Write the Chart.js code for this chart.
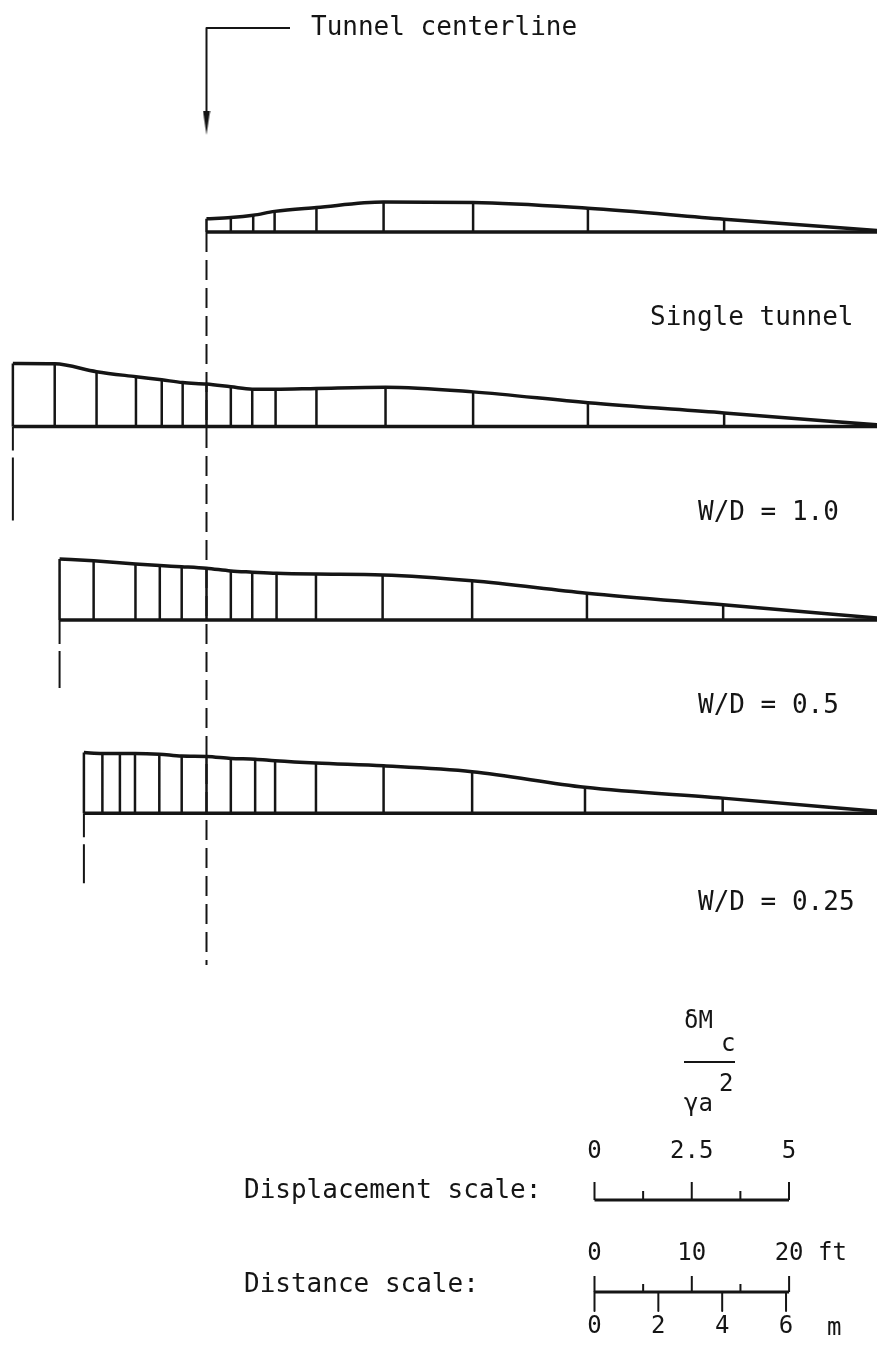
<!DOCTYPE html>
<html>
<head>
<meta charset="utf-8">
<script src="https://cdn.jsdelivr.net/npm/chart.js@4.4.1/dist/chart.umd.min.js"></script>
<style>
  html, body { margin: 0; padding: 0; background: #fff; }
  #wrap { position: relative; width: 877px; height: 1347px; overflow: hidden; }
  #chart { position: absolute; left: 0; top: 0; }
  .lbl { position: absolute; font-family: "DejaVu Sans Mono", monospace; color: #151515; white-space: pre; line-height: 1; }
</style>
</head>
<body>
<div id="wrap">
  <canvas id="chart" width="877" height="1347"></canvas>
</div>
<script>
'use strict';

// dane: odleglosc od osi tunelu (ft) i przemieszczenie dMc/(ya^2)
var single_x = [0, 2.5, 4.8, 7.0, 11.3, 18.2, 27.4, 39.2, 53.2, 69];
var single_y = [0.34, 0.37, 0.43, 0.53, 0.63, 0.77, 0.76, 0.61, 0.33, 0.04];

var wd10_x = [-19.9, -15.6, -11.3, -7.25, -4.6, -2.45, 0, 2.5, 4.7, 7.1, 11.3, 18.4, 27.4, 39.2, 53.2, 69];
var wd10_y = [1.62, 1.61, 1.41, 1.28, 1.20, 1.13, 1.09, 1.02, 0.96, 0.96, 0.98, 1.01, 0.89, 0.61, 0.35, 0.04];

var wd05_x = [-15.1, -11.6, -7.3, -4.8, -2.55, 0, 2.5, 4.7, 7.2, 11.25, 18.1, 27.3, 39.1, 53.1, 69];
var wd05_y = [1.57, 1.52, 1.44, 1.40, 1.37, 1.33, 1.26, 1.23, 1.20, 1.18, 1.16, 1.01, 0.69, 0.39, 0.05];

var wd025_x = [-12.6, -10.7, -8.9, -7.35, -4.85, -2.55, 0, 2.5, 5.0, 7.05, 11.25, 18.2, 27.3, 38.9, 53.05, 69];
var wd025_y = [1.56, 1.54, 1.54, 1.54, 1.52, 1.47, 1.46, 1.41, 1.39, 1.35, 1.29, 1.22, 1.07, 0.67, 0.39, 0.05];

var profileNames = ['Single tunnel', 'W/D = 1.0', 'W/D = 0.5', 'W/D = 0.25'];

// skale (podzialki na dole)
var dispTicks = [0, 1.25, 2.5, 3.75, 5];
var dispTickLabels = ['0', '', '2.5', '', '5'];
var ftTicks = [0, 5, 10, 15, 20];
var ftTickLabels = ['0', '', '10', '', '20'];
var mTicks = [0, 2, 4, 6];
var mTickLabels = ['0', '2', '4', '6'];

// geometria rysunku
var W = 877, H = 1347;
var PX_PER_FT = 9.73;
var PX_PER_UNIT = 38.9;
var CENTER_PX = 206.5;
var BASELINES = [232, 426.5, 620, 813.3];
var LEFT_EXT = [0, 94, 68, 70];
var CENTERLINE_END = 965;
var SCALE_X0 = (594.5 - CENTER_PX) / PX_PER_FT;
var FT_PER_UNIT = PX_PER_UNIT / PX_PER_FT;
var FT_PER_M = 3.28084;
var DISP_BAR_Y = 1200, DIST_BAR_Y = 1292;
var INK = '#151515';

var xsAll = [single_x, wd10_x, wd05_x, wd025_x];
var ysAll = [single_y, wd10_y, wd05_y, wd025_y];

function verticals(xs, y0, y1) {
  var pts = [];
  for (var i = 0; i < xs.length; i++) {
    pts.push({x: xs[i], y: y0[i] !== undefined ? y0[i] : y0});
    pts.push({x: xs[i], y: y1[i] !== undefined ? y1[i] : y1});
    pts.push({x: xs[i], y: null});
  }
  return pts;
}

function lineSet(data, axis, width, extra) {
  var ds = {
    type: 'scatter', data: data, yAxisID: axis, showLine: true,
    borderColor: INK, backgroundColor: INK, borderWidth: width,
    pointRadius: 0, spanGaps: false, fill: false
  };
  for (var k in extra) ds[k] = extra[k];
  return ds;
}

var datasets = [];
var scales = {
  x: {type: 'linear', display: false, min: -CENTER_PX / PX_PER_FT, max: (W - CENTER_PX) / PX_PER_FT},
  page: {type: 'linear', position: 'left', display: false, min: 0, max: H, reverse: true}
};

for (var p = 0; p < 4; p++) {
  var axis = 'p' + p;
  var xs = xsAll[p], ys = ysAll[p];
  scales[axis] = {
    type: 'linear', position: 'left', display: false,
    min: -(H - BASELINES[p]) / PX_PER_UNIT, max: BASELINES[p] / PX_PER_UNIT
  };
  // krzywa przemieszczen
  datasets.push(lineSet(xs.map(function (x, j) { return {x: x, y: ys[j]}; }), axis, 3.5,
    {cubicInterpolationMode: 'monotone'}));
  // linia bazowa
  datasets.push(lineSet([{x: xs[0], y: 0}, {x: xs[xs.length - 1], y: 0}], axis, 3.5));
  // pionowe kreski w wezlach
  datasets.push(lineSet(verticals(xs.slice(0, -1), 0, ys.slice(0, -1)), axis, 2.5));
  // przedluzenie w dol (os symetrii)
  if (LEFT_EXT[p] > 0) {
    datasets.push(lineSet([{x: xs[0], y: 0}, {x: xs[0], y: -LEFT_EXT[p] / PX_PER_UNIT}], axis, 2,
      {borderDash: [24, 7, 300]}));
  }
}

// os tunelu (przerywana)
datasets.push(lineSet([{x: 0, y: 0}, {x: 0, y: -(CENTERLINE_END - BASELINES[0]) / PX_PER_UNIT}], 'p0', 2,
  {borderDash: [20, 8]}));

// strzalka "Tunnel centerline"
var head = document.createElement('canvas');
head.width = 8; head.height = 24;
var hc = head.getContext('2d');
hc.fillStyle = INK;
hc.beginPath(); hc.moveTo(0.5, 0); hc.lineTo(7.5, 0); hc.lineTo(4, 24); hc.closePath(); hc.fill();
datasets.push(lineSet([{x: (290 - CENTER_PX) / PX_PER_FT, y: 28}, {x: 0, y: 28}, {x: 0, y: 118}], 'page', 2));
datasets.push({type: 'scatter', data: [{x: 0, y: 123}], yAxisID: 'page', pointStyle: head, pointRadius: 12});

// podzialka przemieszczen
var dispX = dispTicks.map(function (v) { return SCALE_X0 + v * FT_PER_UNIT; });
datasets.push(lineSet([{x: dispX[0], y: DISP_BAR_Y}, {x: dispX[dispX.length - 1], y: DISP_BAR_Y}], 'page', 3));
datasets.push(lineSet(verticals(dispX, DISP_BAR_Y, dispTickLabels.map(function (l) { return l ? DISP_BAR_Y - 18 : DISP_BAR_Y - 9; })), 'page', 2));

// podzialka odleglosci
var ftX = ftTicks.map(function (v) { return SCALE_X0 + v; });
var mX = mTicks.map(function (v) { return SCALE_X0 + v * FT_PER_M; });
datasets.push(lineSet([{x: ftX[0], y: DIST_BAR_Y}, {x: ftX[ftX.length - 1], y: DIST_BAR_Y}], 'page', 3));
datasets.push(lineSet(verticals(ftX, DIST_BAR_Y, ftTickLabels.map(function (l) { return l ? DIST_BAR_Y - 16 : DIST_BAR_Y - 8; })), 'page', 2));
datasets.push(lineSet(verticals(mX, DIST_BAR_Y, DIST_BAR_Y + 19), 'page', 2));

var chart = new Chart(document.getElementById('chart'), {
  type: 'scatter',
  data: {datasets: datasets},
  options: {
    responsive: false,
    animation: false,
    devicePixelRatio: 1,
    layout: {padding: 0, autoPadding: false},
    scales: scales,
    plugins: {legend: {display: false}, tooltip: {enabled: false}},
    elements: {line: {borderCapStyle: 'butt', borderJoinStyle: 'round'}}
  }
});

// napisy jako tekst HTML
var wrap = document.getElementById('wrap');
function label(text, x, y, size, align) {
  var d = document.createElement('div');
  d.className = 'lbl';
  d.textContent = text;
  d.style.fontSize = size + 'px';
  d.style.top = (y - size * 0.48) + 'px';
  d.style.left = x + 'px';
  if (align === 'center') d.style.transform = 'translateX(-50%)';
  wrap.appendChild(d);
  return d;
}

var sx = chart.scales.x;
label('Tunnel centerline', 311, 25, 26);
var labelY = [315, 510, 703, 900];
var labelX = [650, 698, 698, 698];
for (var i = 0; i < 4; i++) label(profileNames[i], labelX[i], labelY[i], 26);

label('Displacement scale:', 244, 1188, 26);
label('Distance scale:', 244, 1282, 26);

for (var t = 0; t < dispTicks.length; t++) {
  if (dispTickLabels[t]) label(dispTickLabels[t], sx.getPixelForValue(dispX[t]), 1150, 24, 'center');
}
for (var t = 0; t < ftTicks.length; t++) {
  if (ftTickLabels[t]) label(ftTickLabels[t], sx.getPixelForValue(ftX[t]), 1252, 24, 'center');
}
for (var t = 0; t < mTicks.length; t++) {
  label(mTickLabels[t], sx.getPixelForValue(mX[t]), 1325, 24, 'center');
}
label('ft', 818, 1252, 24);
label('m', 827, 1327, 24);

// ulamek dMc / ya^2
label('\u03B4M', 684, 1020, 24);
label('c', 721, 1043, 24);
var bar = document.createElement('div');
bar.style.cssText = 'position:absolute;left:684px;top:1061px;width:51px;height:2px;background:' + INK;
wrap.appendChild(bar);
label('2', 719, 1083, 24);
label('\u03B3a', 684, 1103, 24);
</script>
</body>
</html>
